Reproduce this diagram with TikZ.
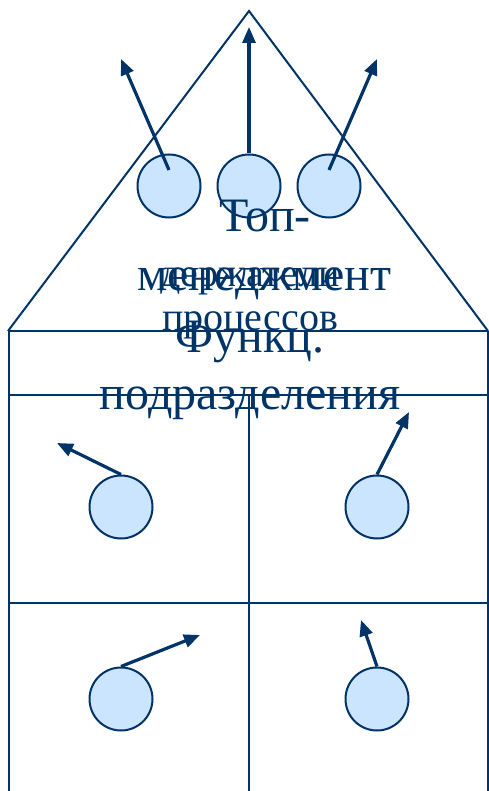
\documentclass[tikz,border=0pt]{standalone}
\usepackage{fontspec}
\setmainfont{Liberation Serif}
\usetikzlibrary{arrows.meta}
\definecolor{dblue}{RGB}{0,51,102}
\definecolor{lblue}{RGB}{204,229,255}
\begin{document}
\begin{tikzpicture}[x=1pt,y=-1pt,
  frame/.style={draw=dblue,line width=2pt},
  ball/.style={circle,draw=dblue,fill=lblue,line width=2pt,minimum size=63pt,inner sep=0pt},
  arr/.style={draw=dblue,line width=3.2pt,-{Triangle[length=16pt,width=13pt]}},
  big/.style={text=dblue,font=\fontsize{48}{56}\selectfont,anchor=base,inner sep=0pt},
  mid/.style={text=dblue,font=\fontsize{40}{44}\selectfont,anchor=base,inner sep=0pt}]
\useasboundingbox (0,0) rectangle (489,791);
% frame
\coordinate (apex) at (249,11);
\coordinate (bl) at (8,331);
\coordinate (br) at (488,331);
\coordinate (l2) at (9,395);
\coordinate (r2) at (488,395);
\coordinate (l3) at (9,603);
\coordinate (r3) at (488,603);
\coordinate (lt) at (9,331);
\coordinate (lb) at (9,791);
\coordinate (rb) at (488,791);
\coordinate (mt) at (249,395);
\coordinate (mb) at (249,791);
\draw[frame] (bl) -- (apex) -- (br);
\draw[frame] (bl) -- (br);
\draw[frame] (l2) -- (r2);
\draw[frame] (l3) -- (r3);
\draw[frame] (lt) -- (lb);
\draw[frame] (br) -- (rb);
\draw[frame] (mt) -- (mb);
% circles
\node[ball] (c1) at (169,186) {};
\node[ball] (c2) at (249,186) {};
\node[ball] (c3) at (329,186) {};
\node[ball] (c4) at (121,507) {};
\node[ball] (c5) at (377,507) {};
\node[ball] (c6) at (121,699) {};
\node[ball] (c7) at (377,699) {};
% texts
\node[mid] (d1) at (250,286) {держатели};
\node[mid] (d2) at (250,330) {процессов};
\node[big] (t1) at (265,232) {Топ-};
\node[big] (t2) at (264,290) {менеджмент};
\node[big] (f1) at (250,352) {Функц.};
\node[big] (f2) at (250,409) {подразделения};
% arrows
\coordinate (s1) at (169,170);
\coordinate (e1) at (121,59);
\coordinate (e2) at (249,27);
\coordinate (s3) at (329,170);
\coordinate (e3) at (377,59);
\coordinate (e4) at (57,443);
\coordinate (e5) at (409,412);
\coordinate (e6) at (200,635);
\coordinate (e7) at (361,620);
\draw[arr] (s1) -- (e1);
\draw[arr] (c2.north) -- (e2);
\draw[arr] (s3) -- (e3);
\draw[arr] (c4.north) -- (e4);
\draw[arr] (c5.north) -- (e5);
\draw[arr] (c6.north) -- (e6);
\draw[arr] (c7.north) -- (e7);
\end{tikzpicture}
\end{document}
